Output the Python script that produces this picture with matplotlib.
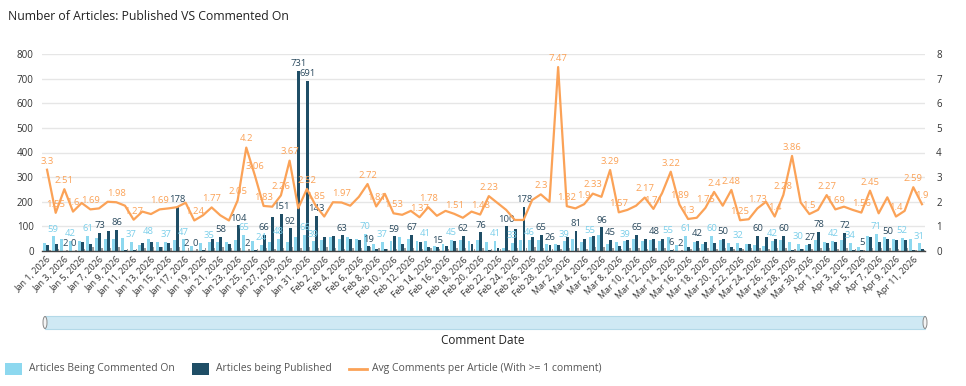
import matplotlib
matplotlib.use('Agg')
import matplotlib.pyplot as plt
import numpy as np
import pandas as pd
from matplotlib.patches import Rectangle, Ellipse
from matplotlib.lines import Line2D

plt.rcParams['font.family'] = ['Open Sans', 'DejaVu Sans']

# ---------------- data ----------------
dates = pd.date_range('2026-01-01', '2026-04-12', freq='D')

commented = [34, 59, 48, 42, 40, 61, 52, 50, 50, 52,
             37, 25, 48, 36, 37, 45, 47, 22, 33, 35,
             35, 38, 45, 65, 40, 24, 35, 48, 35, 55,
             66, 39, 45, 55, 50, 55, 50, 70, 30, 37,
             40, 55, 50, 40, 41, 20, 30, 45, 45, 40,
             45, 35, 41, 13, 33, 45, 46, 45, 30, 28,
             39, 50, 35, 55, 65, 30, 35, 39, 50, 40,
             45, 40, 55, 25, 61, 35, 30, 60, 45, 33,
             32, 30, 25, 20, 42, 45, 35, 30, 25, 45,
             35, 42, 45, 34, 18, 62, 71, 55, 48, 52,
             50, 31]

published = [23, 28, 2, 0, 37, 30, 73, 82, 86, 5,
             6, 33, 38, 15, 33, 178, 2, 0, 5, 48,
             58, 30, 104, 2, 3, 66, 140, 151, 92, 731,
             691, 143, 58, 60, 63, 50, 45, 19, 10, 10,
             59, 30, 67, 35, 15, 15, 20, 40, 62, 30,
             76, 5, 12, 100, 88, 178, 55, 65, 26, 25,
             55, 81, 50, 60, 96, 45, 20, 45, 65, 50,
             48, 50, 6, 2, 15, 42, 38, 32, 50, 16,
             12, 30, 60, 55, 50, 60, 5, 8, 27, 78,
             32, 38, 72, 4, 5, 58, 35, 50, 45, 45,
             3, 8]

other = [5, 8, 6, 4, 10, 15, 12, 14, 18, 8,
         10, 12, 15, 18, 12, 15, 14, 8, 12, 12,
         15, 14, 12, 10, 8, 12, 10, 12, 15, 14,
         16, 12, 15, 14, 10, 12, 14, 16, 12, 8,
         10, 14, 12, 10, 12, 8, 10, 12, 14, 10,
         12, 8, 10, 6, 12, 14, 15, 12, 10, 8,
         12, 14, 10, 15, 16, 12, 10, 14, 12, 10,
         12, 14, 8, 6, 10, 12, 14, 10, 12, 8,
         10, 12, 14, 10, 12, 14, 10, 8, 10, 14,
         12, 10, 14, 8, 6, 12, 14, 12, 10, 12,
         6, 4]

avg_comments = [3.3, 1.55, 2.51, 1.6, 1.95, 1.69, 1.73, 2.0, 1.98, 1.84,
                1.27, 1.6, 1.5, 1.69, 1.73, 1.78, 1.96, 1.24, 1.45, 1.77,
                1.45, 1.24, 2.05, 4.2, 3.06, 1.83, 1.8, 2.26, 3.67, 1.74,
                2.52, 1.85, 1.4, 1.98, 1.97, 1.84, 2.2, 2.72, 1.81, 2.32,
                1.53, 1.47, 1.63, 1.37, 1.78, 1.43, 1.63, 1.51, 1.35, 1.6,
                1.48, 2.23, 1.95, 1.67, 1.26, 1.26, 2.07, 2.3, 2.0, 7.47,
                1.82, 1.73, 1.9, 2.33, 2.2, 3.29, 1.57, 1.67, 1.84, 2.17,
                1.71, 2.35, 3.22, 1.89, 1.3, 1.35, 1.75, 2.4, 1.84, 2.48,
                1.25, 1.29, 1.73, 2.0, 1.4, 2.28, 3.86, 1.97, 1.5, 1.67,
                2.27, 1.69, 1.8, 1.67, 1.56, 2.45, 1.53, 2.18, 1.4, 1.63,
                2.59, 1.9]

# which points carry a visible data label
commented_labeled = [1, 3, 5, 10, 12, 14, 16, 19, 23, 25, 27, 30, 31, 37, 39, 44, 47,
                     52, 54, 56, 60, 63, 67, 72, 74, 77, 80, 84, 87, 91, 93, 96, 99, 101]
published_labeled = [2, 3, 6, 8, 15, 16, 17, 20, 22, 23, 25, 27, 28, 29, 30, 31, 34, 37,
                     40, 42, 45, 48, 50, 53, 55, 57, 58, 61, 64, 65, 68, 70, 72, 73, 75,
                     78, 82, 85, 88, 89, 92, 94, 97]
avg_labeled = [0, 1, 2, 3, 5, 8, 10, 13, 17, 19, 22, 23, 24, 25, 27, 28, 30, 31, 34, 37,
               38, 40, 43, 44, 47, 50, 51, 57, 59, 60, 62, 63, 65, 66, 69, 70, 72, 73, 74,
               76, 77, 79, 80, 82, 84, 85, 86, 88, 90, 91, 94, 95, 98, 100, 101]

tick_labels = [f"{d:%b} {d.day}, {d.year}" for d in dates[::2]]

C_LIGHT = '#8dd8ef'
C_DARK = '#1f4e66'
C_GRAY = '#9a9a9a'
C_ORANGE = '#fba257'
C_LIGHT_TXT = '#7ccfea'
C_DARK_TXT = '#2b4a5e'

# ---------------- figure ----------------
W, H = 966, 386
fig = plt.figure(figsize=(W / 100, H / 100), dpi=100)
fig.patch.set_facecolor('white')

ax = fig.add_axes([42 / W, 1 - 251 / H, (925 - 42) / W, (251 - 54) / H])
x = np.arange(len(dates))
ax.bar(x - 0.29, commented, 0.34, color=C_LIGHT, zorder=2)
ax.bar(x + 0.06, published, 0.34, color=C_DARK, zorder=2)
ax.bar(x + 0.32, other, 0.17, color=C_GRAY, zorder=2)
ax.set_xlim(-0.58, 101.35)
ax.set_ylim(0, 800)
ax.set_yticks(range(0, 801, 100))
ax.grid(axis='y', color='#e6e6e6', lw=1)
ax.set_axisbelow(True)
for s in ['top', 'right', 'left']:
    ax.spines[s].set_visible(False)
ax.spines['bottom'].set_color('#444')
ax.spines['bottom'].set_linewidth(1)
ax.tick_params(axis='y', length=0, labelsize=7, pad=6, labelcolor='#333')
ax.set_xticks(x[::2])
ax.set_xticklabels(tick_labels, rotation=45, ha='right', rotation_mode='anchor',
                   fontsize=6.5, color='#333')
ax.tick_params(axis='x', length=0, pad=3)

for i in commented_labeled:
    ax.annotate(f"{commented[i]}", (x[i] - 0.29, commented[i]), xytext=(0, 2),
                textcoords='offset points', ha='center', va='bottom',
                fontsize=6.8, color=C_LIGHT_TXT, zorder=5)
for i in published_labeled:
    ax.annotate(f"{published[i]}", (x[i] + 0.06, published[i]), xytext=(0, 2),
                textcoords='offset points', ha='center', va='bottom',
                fontsize=6.8, color=C_DARK_TXT, zorder=5)

ax2 = ax.twinx()
ax2.plot(x, avg_comments, color=C_ORANGE, lw=1.6, zorder=3)
ax2.set_ylim(0, 8)
ax2.set_yticks(range(0, 9))
for s in ax2.spines.values():
    s.set_visible(False)
ax2.tick_params(axis='y', length=0, labelsize=7, pad=8, labelcolor='#333')
for i in avg_labeled:
    ax2.annotate(f"{avg_comments[i]:g}", (x[i], avg_comments[i]), xytext=(0, 3),
                 textcoords='offset points', ha='center', va='bottom',
                 fontsize=6.8, color=C_ORANGE, zorder=6)

# ---------------- title ----------------
fig.text(8 / W, 1 - 16 / H, 'Number of Articles: Published VS Commented On',
         ha='left', va='center', fontsize=8.8, color='#222')

# ---------------- scrollbar ----------------
fig.add_artist(Rectangle((45 / W, 1 - 329 / H), 880 / W, 13 / H, transform=fig.transFigure,
                         facecolor='#cfe9f4', edgecolor='#b3d9e8', lw=0.8))
for ex in (45, 925):
    fig.add_artist(Ellipse((ex / W, 1 - 322.5 / H), 4 / W, 12 / H, transform=fig.transFigure,
                           facecolor='#f4f4f4', edgecolor='#888', lw=0.7))
fig.text(483 / W, 1 - 340 / H, 'Comment Date', ha='center', va='center',
         fontsize=8.5, color='#222')

# ---------------- legend ----------------
ly = 1 - 369 / H
fig.add_artist(Rectangle((5 / W, 1 - 375 / H), 17 / W, 12 / H, transform=fig.transFigure,
                         facecolor=C_LIGHT, edgecolor='none'))
fig.text(29 / W, ly, 'Articles Being Commented On', ha='left', va='center',
         fontsize=7.5, color='#555')
fig.add_artist(Rectangle((192 / W, 1 - 375 / H), 17 / W, 12 / H, transform=fig.transFigure,
                         facecolor=C_DARK, edgecolor='none'))
fig.text(216 / W, ly, 'Articles being Published', ha='left', va='center',
         fontsize=7.5, color='#555')
fig.add_artist(Line2D([349 / W, 367 / W], [ly, ly], transform=fig.transFigure,
                      color=C_ORANGE, lw=2))
fig.text(372 / W, ly, 'Avg Comments per Article (With >= 1 comment)', ha='left',
         va='center', fontsize=7.5, color='#555')

fig.savefig('out.png', dpi=100)
